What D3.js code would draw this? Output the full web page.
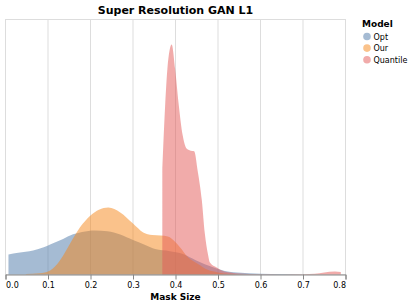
<!DOCTYPE html>
<html>
<head>
<meta charset="utf-8">
<script src="https://cdn.jsdelivr.net/npm/d3@7"></script>
<style>
  body { margin: 0; background: #fff; }
  text { font-family: "DejaVu Sans", sans-serif; }
</style>
</head>
<body>
<div id="chart"></div>
<script>
// estimated density curves, [mask size, density]
let models = ["Opt", "Our", "Quantile"]
let colors = ["#4c78a8", "#f58518", "#e45756"]
let xTicks = [0, 0.1, 0.2, 0.3, 0.4, 0.5, 0.6, 0.7, 0.8]

let opt = [[0.007, 0.94], [0.03, 1.02], [0.065, 1.13], [0.09, 1.28], [0.105, 1.41], [0.13, 1.62],
    [0.152, 1.84], [0.18, 2.0], [0.21, 2.07], [0.24, 2.04], [0.27, 1.88], [0.30, 1.62],
    [0.33, 1.38], [0.352, 1.2], [0.387, 1.1], [0.414, 0.99], [0.44, 0.75], [0.453, 0.62],
    [0.485, 0.36], [0.516, 0.17], [0.545, 0.09], [0.6, 0.04], [0.65, 0.02], [0.7, 0.005]]

let our = [[0.048, 0.02], [0.08, 0.06], [0.105, 0.19], [0.128, 0.66], [0.152, 1.46], [0.175, 2.21],
    [0.2, 2.78], [0.22, 3.05], [0.242, 3.15], [0.27, 2.92], [0.30, 2.4], [0.324, 1.98],
    [0.345, 1.86], [0.365, 1.84], [0.382, 1.79], [0.41, 1.3], [0.43, 0.8], [0.453, 0.5],
    [0.476, 0.22], [0.5, 0.1], [0.53, 0.03], [0.56, 0.0]]

let quantile = [[0.369, 5.0], [0.376, 8.1], [0.381, 9.7], [0.391, 10.82],
    [0.399, 9.7], [0.407, 8.1], [0.417, 6.54], [0.426, 5.93], [0.434, 5.84], [0.444, 5.8],
    [0.452, 4.9], [0.462, 3.48], [0.469, 1.93], [0.476, 0.99], [0.481, 0.56], [0.497, 0.33],
    [0.515, 0.14], [0.55, 0.05], [0.6, 0.01], [0.65, 0.003], [0.7, 0.01], [0.728, 0.03],
    [0.75, 0.1], [0.775, 0.14], [0.789, 0.12]]

let series = [opt, our, quantile]

let width = 415, height = 306
let plot = { left: 5.5, top: 19.5, width: 340, height: 255 }

let svg = d3.select("#chart")
    .append("svg")
    .attr("width", width)
    .attr("height", height)

let x = d3.scaleLinear()
    .domain([0, 0.8])
    .range([plot.left, plot.left + plot.width])

let y = d3.scaleLinear()
    .domain([0, 12])
    .range([plot.top + plot.height, plot.top])

// view border + grid
svg.append("rect")
    .attr("x", plot.left)
    .attr("y", plot.top)
    .attr("width", plot.width)
    .attr("height", plot.height)
    .attr("fill", "none")
    .attr("stroke", "#ddd")

svg.append("g")
    .selectAll("line")
    .data(xTicks)
    .join("line")
    .attr("x1", d => x(d))
    .attr("x2", d => x(d))
    .attr("y1", plot.top)
    .attr("y2", plot.top + plot.height)
    .attr("stroke", "#ddd")

// areas
let area = d3.area()
    .x(d => x(d[0]))
    .y0(y(0))
    .y1(d => y(d[1]))
    .curve(d3.curveMonotoneX)

svg.append("g")
    .selectAll("path")
    .data(series)
    .join("path")
    .attr("d", area)
    .attr("fill", (d, i) => colors[i])
    .attr("fill-opacity", 0.5)

// x axis
let xAxis = svg.append("g")
    .attr("transform", `translate(0,${plot.top + plot.height})`)
    .call(d3.axisBottom(x).tickValues(xTicks).tickFormat(d3.format(".1f")).tickSize(5).tickPadding(3))

xAxis.select(".domain").attr("stroke", "#888")
xAxis.selectAll(".tick line").attr("stroke", "#888")
xAxis.selectAll(".tick text")
    .attr("font-size", 8)
    .attr("font-family", "DejaVu Sans, sans-serif")
    .attr("fill", "#000")
    .attr("text-anchor", (d, i) => i == 0 ? "start" : (i == xTicks.length - 1 ? "end" : "middle"))

svg.append("text")
    .attr("x", plot.left + plot.width / 2)
    .attr("y", 300)
    .attr("text-anchor", "middle")
    .attr("font-size", 9)
    .attr("font-weight", "bold")
    .text("Mask Size")

// title
svg.append("text")
    .attr("x", plot.left + plot.width / 2)
    .attr("y", 14)
    .attr("text-anchor", "middle")
    .attr("font-size", 11)
    .attr("font-weight", "bold")
    .text("Super Resolution GAN L1")

// legend
let legend = svg.append("g")
    .attr("transform", "translate(362,0)")

legend.append("text")
    .attr("x", 0)
    .attr("y", 26.5)
    .attr("font-size", 9)
    .attr("font-weight", "bold")
    .text("Model")

let items = legend.selectAll("g.item")
    .data(models)
    .join("g")
    .attr("class", "item")
    .attr("transform", (d, i) => `translate(0,${36.5 + i * 11.6})`)

items.append("circle")
    .attr("cx", 5)
    .attr("cy", 0)
    .attr("r", 3.8)
    .attr("fill", (d, i) => colors[i])
    .attr("fill-opacity", 0.5)

items.append("text")
    .attr("x", 11.5)
    .attr("y", 3)
    .attr("font-size", 8)
    .text(d => d)
</script>
</body>
</html>
